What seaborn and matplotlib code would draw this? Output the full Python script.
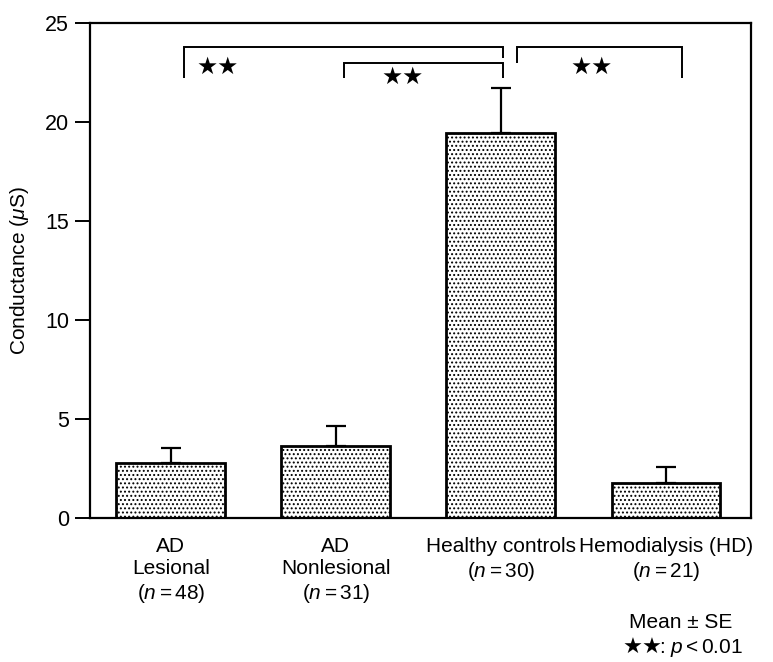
import numpy as np
import pandas as pd
import seaborn as sns
from matplotlib import pyplot as plt

#%%
groups = ["AD\nLesional\n($n=48$)", "AD\nNonlesional\n($n=31$)",
          "Healthy controls\n($n=30$)", "Hemodialysis (HD)\n($n=21$)"]
mean_uS = [2.78, 3.64, 19.43, 1.78]
se_uS = [0.74, 1.01, 2.30, 0.78]
y_ticks = [0, 5, 10, 15, 20, 25]

# significance brackets: x_left, x_right, y_top, y_left_end, y_right_end
brackets = [
    (0.08, 2.01, 23.77, 22.20, 23.22),
    (1.05, 2.01, 23.00, 22.20, 22.20),
    (2.10, 3.10, 23.77, 22.96, 22.20),
]
star_pos = [(0.285, 22.76), (1.405, 22.26), (2.55, 22.76)]

#%%
sns.set_theme(style="white")
plt.rcParams["font.family"] = ["Liberation Sans", "DejaVu Sans"]
plt.rcParams["mathtext.fontset"] = "custom"
plt.rcParams["mathtext.rm"] = "Liberation Sans"
plt.rcParams["mathtext.it"] = "Liberation Sans:italic"
plt.rcParams["hatch.linewidth"] = 0.9
plt.rcParams["text.color"] = "black"
plt.rcParams["xtick.color"] = "black"
plt.rcParams["ytick.color"] = "black"
plt.rcParams["axes.labelcolor"] = "black"

table = pd.DataFrame({"group": groups, "mean": mean_uS, "se": se_uS})

fig = plt.figure(figsize=(7.73, 6.62), dpi=100)
ax = fig.add_axes([0.1164, 0.2175, 0.8551, 0.7478])

sns.barplot(data=table, x="group", y="mean", ax=ax, width=0.66,
            color="white", edgecolor="black", linewidth=2, errorbar=None)
for patch in ax.patches:
    patch.set_facecolor("white")
    patch.set_hatch("....")
    patch.set_edgecolor("black")

xpos = np.arange(len(groups))
ax.errorbar(xpos, table["mean"], yerr=[np.zeros(len(groups)), table["se"]],
            fmt="none", ecolor="black", elinewidth=1.6, capsize=7.5, capthick=1.6)

for x1, x2, ytop, yl, yr in brackets:
    ax.plot([x1, x1, x2, x2], [yl, ytop, ytop, yr], color="black", lw=1.4,
            solid_capstyle="butt", solid_joinstyle="miter", clip_on=False)
for sx, sy in star_pos:
    ax.text(sx, sy, "★★", ha="center", va="center", fontsize=17,
            family="DejaVu Sans", color="black")

ax.set_xlim(-0.49, 3.515)
ax.set_ylim(0, 25)
ax.set_yticks(y_ticks)
ax.tick_params(axis="y", direction="out", length=11, width=1.4, pad=4,
               labelsize=15.5, left=True)
ax.tick_params(axis="x", length=0, pad=14, labelsize=15)
for lbl in ax.get_xticklabels():
    lbl.set_linespacing(1.2)
for sp in ax.spines.values():
    sp.set_linewidth(1.6)
    sp.set_color("black")
ax.set_xlabel("")
ax.set_ylabel("Conductance ($\\mu$S)", fontsize=15, labelpad=10)

fig.text(0.881, 0.060, "Mean ± SE", ha="center", va="center", fontsize=15)
fig.text(0.806, 0.021, "★★", ha="left", va="center", fontsize=16,
         family="DejaVu Sans")
fig.text(0.853, 0.021, ": $p<0.01$", ha="left", va="center", fontsize=15)

plt.savefig("out.png", dpi=100)
plt.close()
